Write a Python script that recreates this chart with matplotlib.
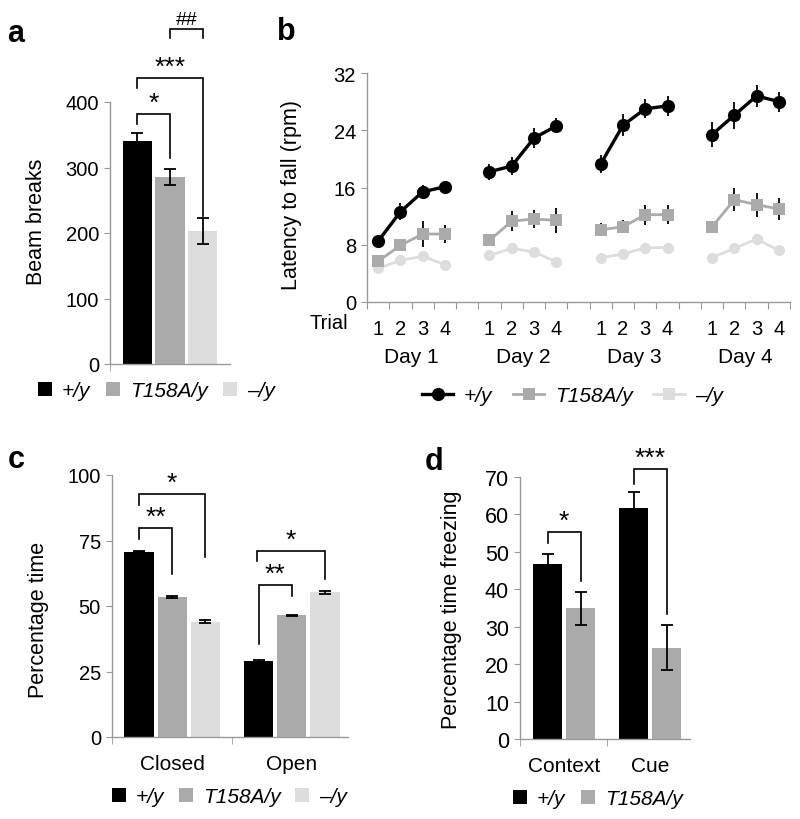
import numpy as np
import matplotlib.pyplot as plt
from matplotlib.patches import Patch
from matplotlib.lines import Line2D

plt.rcParams['font.family'] = ['Liberation Sans', 'DejaVu Sans']

genotypes = ['+/y', 'T158A/y', '\u2013/y']
colors = ['#000000', '#aaaaaa', '#dddddd']

# a - open field
beam_mean = [340, 286, 203]
beam_err = [12, 12, 20]

# b - rotarod, 4 trials on each of 4 days
days = ['Day 1', 'Day 2', 'Day 3', 'Day 4']
trials = ['1', '2', '3', '4']
rot_wt = [8.5, 12.6, 15.4, 16.1, 18.2, 19.0, 22.9, 24.6,
          19.3, 24.7, 27.0, 27.4, 23.4, 26.1, 28.8, 28.0]
rot_wt_err = [0.5, 1.2, 1.0, 0.7, 1.1, 1.2, 1.35, 1.05,
              1.3, 1.55, 1.3, 1.35, 1.7, 1.9, 1.5, 1.4]
rot_ta = [5.7, 7.9, 9.5, 9.5, 8.6, 11.3, 11.6, 11.4,
          10.1, 10.5, 12.2, 12.2, 10.5, 14.3, 13.6, 13.0]
rot_ta_err = [0.4, 0.6, 1.75, 1.2, 0.5, 1.4, 1.25, 1.7,
              0.9, 0.9, 1.4, 1.3, 0.7, 1.6, 1.7, 1.6]
rot_ko = [4.7, 5.8, 6.4, 5.2, 6.5, 7.5, 7.0, 5.6,
          6.2, 6.7, 7.6, 7.6, 6.2, 7.5, 8.8, 7.2]
rot_ko_err = [0.5, 0.6, 0.6, 0.5, 0.6, 0.8, 0.6, 0.5,
              0.5, 0.7, 0.6, 0.6, 0.5, 0.6, 0.7, 0.6]

# c - elevated plus maze
arms = ['Closed', 'Open']
maze_wt = [70.8, 28.9]
maze_wt_err = [0.3, 0.4]
maze_ta = [53.4, 46.4]
maze_ta_err = [0.3, 0.3]
maze_ko = [44.0, 55.2]
maze_ko_err = [0.5, 0.5]

# d - fear conditioning
tests = ['Context', 'Cue']
fear_wt = [46.7, 61.8]
fear_wt_err = [2.6, 4.2]
fear_ta = [34.9, 24.4]
fear_ta_err = [4.5, 6.0]

W, H = 800, 820
fig = plt.figure(figsize=(8, 8.2), dpi=100)
GRID = '#999999'


def px_axes(left, top, right, bottom):
    return fig.add_axes([left / W, 1 - bottom / H, (right - left) / W, (bottom - top) / H])


def style(ax):
    for s in ['top', 'right']:
        ax.spines[s].set_visible(False)
    for s in ['left', 'bottom']:
        ax.spines[s].set_color(GRID)
        ax.spines[s].set_linewidth(1.0)
    ax.tick_params(axis='both', which='both', color=GRID, direction='out')
    ax.tick_params(axis='y', length=4, labelsize=14.5, pad=4)


def bracket(ax, x1, x2, top, y1, y2, label, fs=19, off=3):
    ax.plot([x1, x1, x2, x2], [y1, top, top, y2], color='black', lw=1.2,
            clip_on=False, solid_joinstyle='miter')
    ax.annotate(label, xy=((x1 + x2) / 2, top), xytext=(0, off),
                textcoords='offset points', ha='center', va='baseline',
                fontsize=fs, annotation_clip=False)


def ftext(x, y, s, **kw):
    fig.text(x / W, 1 - y / H, s, **kw)


def square_legend(x, y, labels, cols, spacing=0.75):
    handles = [Patch(facecolor=c, edgecolor='none') for c in cols]
    fig.legend(handles, labels, loc='center left', bbox_to_anchor=(x / W, 1 - y / H),
               ncol=len(labels), frameon=False, borderpad=0, borderaxespad=0,
               handlelength=0.65, handleheight=0.65, handletextpad=0.5,
               columnspacing=spacing, prop={'style': 'italic', 'size': 15})


ebar = dict(ecolor='black', capsize=4, elinewidth=1.3, capthick=1.3)

# ---- a
ax = px_axes(110, 103, 230, 365)
style(ax)
xa = np.arange(3)
ax.bar(xa, beam_mean, width=0.88, color=colors, yerr=beam_err, error_kw=ebar)
ax.set_xlim(-0.82, 2.82)
ax.set_ylim(0, 400)
ax.set_yticks([0, 100, 200, 300, 400])
ax.set_xticks([])
ax.set_xticks([-0.82], minor=True)
ax.tick_params(axis='x', which='minor', length=5)
bracket(ax, 0, 1, 382, 367, 315, '*')
bracket(ax, 0, 2, 437, 421, 226, '***')
bracket(ax, 1, 2, 511, 497, 497, '##', fs=14, off=4)
ftext(37, 222, 'Beam breaks', rotation=90, ha='center', va='center', fontsize=15.5)
square_legend(38, 392, genotypes, colors)

# ---- b
ax = px_axes(367, 74, 790, 303)
style(ax)
xb = np.array([5 * d + t + 0.5 for d in range(4) for t in range(4)])
series = [(rot_ko, rot_ko_err, colors[2], 'o', 8, 2.0),
          (rot_ta, rot_ta_err, colors[1], 's', 9, 2.0),
          (rot_wt, rot_wt_err, colors[0], 'o', 9.5, 2.4)]
for vals, err, c, m, ms, lw in series:
    for d in range(4):
        sl = slice(4 * d, 4 * d + 4)
        ax.errorbar(xb[sl], np.array(vals)[sl], yerr=np.array(err)[sl], color=c,
                    marker=m, markersize=ms, lw=lw, markeredgewidth=0, **ebar)
ax.set_xlim(0, 19)
ax.set_ylim(0, 32)
ax.set_yticks([0, 8, 16, 24, 32])
ax.set_xticks(np.arange(20))
ax.set_xticklabels([])
ax.tick_params(axis='x', which='major', length=5)
ax.set_xticks(xb, minor=True)
ax.set_xticklabels(trials * 4, minor=True)
ax.tick_params(axis='x', which='minor', length=0, labelsize=14.5, pad=12)
for d in range(4):
    ax.text(5 * d + 2, -0.236, days[d], transform=ax.get_xaxis_transform(),
            ha='center', va='center', fontsize=15)
ftext(348, 324, 'Trial', ha='right', va='center', fontsize=14.5)
ftext(291, 195, 'Latency to fall (rpm)', rotation=90, ha='center', va='center', fontsize=15.5)
lh = [Line2D([], [], color=colors[0], marker='o', markersize=9.5, lw=2.4, markeredgewidth=0),
      Line2D([], [], color=colors[1], marker='s', markersize=9, lw=2.0, markeredgewidth=0),
      Line2D([], [], color=colors[2], marker='s', markersize=9, lw=2.0, markeredgewidth=0)]
fig.legend(lh, genotypes, loc='center left', bbox_to_anchor=(422 / W, 1 - 397 / H),
           ncol=3, frameon=False, borderpad=0, borderaxespad=0, handlelength=1.5,
           handletextpad=0.5, columnspacing=1.0, prop={'style': 'italic', 'size': 15})

# ---- c
ax = px_axes(112, 476, 348, 738)
style(ax)
xc = np.array([g * 3.6 + k - 1 for k in range(3) for g in range(2)]).reshape(3, 2)
for k, (vals, err) in enumerate([(maze_wt, maze_wt_err), (maze_ta, maze_ta_err),
                                 (maze_ko, maze_ko_err)]):
    ax.bar(xc[k], vals, width=0.88, color=colors[k], yerr=err, error_kw=ebar)
ax.set_xlim(-1.81, 5.29)
ax.set_ylim(0, 100)
ax.set_yticks([0, 25, 50, 75, 100])
ax.set_xticks(xc[1])
ax.set_xticklabels(arms)
ax.tick_params(axis='x', which='major', length=0, labelsize=15, pad=12)
ax.set_xticks([-1.81, 1.8], minor=True)
ax.tick_params(axis='x', which='minor', length=5)
bracket(ax, xc[0][0], xc[1][0], 79.8, 75.6, 62.2, '**')
bracket(ax, xc[0][0], xc[2][0], 92.7, 88.5, 68.7, '*')
bracket(ax, xc[0][1], xc[1][1], 58.1, 35.5, 53.9, '**')
bracket(ax, xc[0][1] - 0.06, xc[2][1], 71.1, 67.3, 60.3, '*')
ftext(39, 620, 'Percentage time', rotation=90, ha='center', va='center', fontsize=15.5)
square_legend(112, 798, genotypes, colors, spacing=0.7)

# ---- d
ax = px_axes(520, 478, 690, 740)
style(ax)
xd = np.array([[-0.5, 2.1], [0.5, 3.1]])
ax.bar(xd[0], fear_wt, width=0.88, color=colors[0], yerr=fear_wt_err, error_kw=ebar)
ax.bar(xd[1], fear_ta, width=0.88, color=colors[1], yerr=fear_ta_err, error_kw=ebar)
ax.set_xlim(-1.33, 3.8)
ax.set_ylim(0, 70)
ax.set_yticks(np.arange(0, 71, 10))
ax.tick_params(axis='y', labelsize=15.5)
ax.set_xticks(xd.mean(axis=0))
ax.set_xticklabels(tests)
ax.tick_params(axis='x', which='major', length=0, labelsize=15, pad=12)
ax.set_xticks([-1.33, 1.3], minor=True)
ax.tick_params(axis='x', which='minor', length=5)
bracket(ax, xd[0][0], xd[1][0], 55.4, 52.4, 42.1, '*')
bracket(ax, xd[0][1], xd[1][1], 72.2, 68.2, 33.4, '***')
ftext(452, 610, 'Percentage time freezing', rotation=90, ha='center', va='center', fontsize=15.5)
square_legend(513, 800, genotypes[:2], colors[:2])

# panel letters
for x, y, s in [(7, 42, 'a'), (277, 40, 'b'), (8, 468, 'c'), (425, 470, 'd')]:
    ftext(x, y, s, fontsize=22, fontweight='bold', va='baseline')

fig.savefig('out.png', dpi=100)
